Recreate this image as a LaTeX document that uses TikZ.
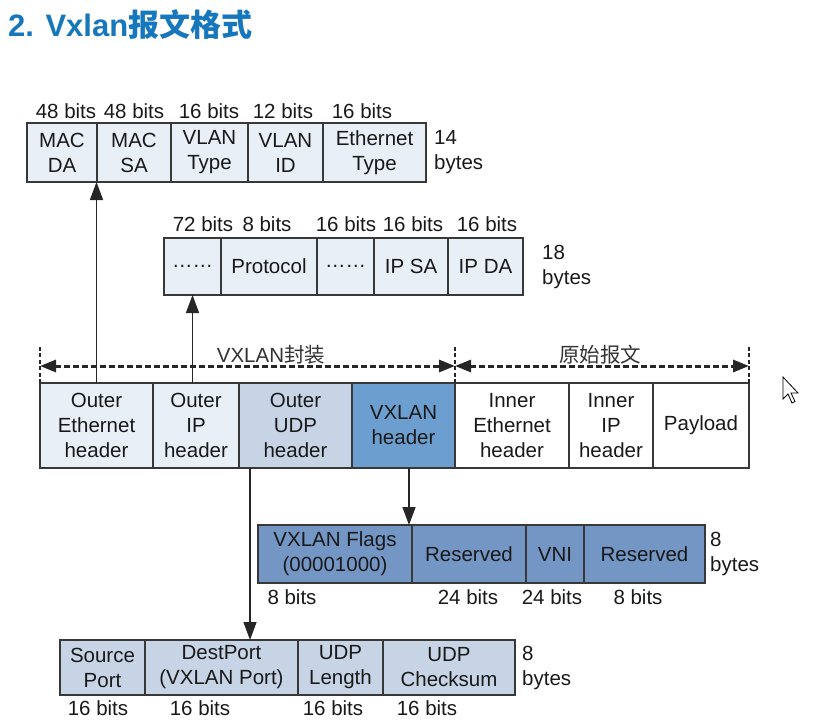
\documentclass[tikz,border=0pt]{standalone}
\usepackage{fontspec}
\setmainfont{Liberation Sans}
\newfontfamily\cjk{Noto Sans CJK SC}
\usetikzlibrary{
    positioning,
    arrows.meta
}
\definecolor{paleblue}{HTML}{E9EFF6}
\definecolor{udpblue}{HTML}{C6D4E5}
\definecolor{hdrblue}{HTML}{6C9FCF}
\definecolor{vxblue}{HTML}{7396C5}
\definecolor{edgegray}{HTML}{383838}
\definecolor{titleblue}{HTML}{1777BD}
\tikzset{
    >=Triangle,
    field/.style={
        draw=edgegray,
        line width=1.5bp,
        inner sep=0pt,
        outer sep=0pt,
        align=center,
        text=black!90,
        font=\fontsize{20.5bp}{25bp}\selectfont
    },
    wd/.style={minimum width=#1bp},
    ht/.style={minimum height=#1bp},
    bitlbl/.style={
        inner sep=0pt,
        text=black!90,
        font=\fontsize{20.5bp}{25bp}\selectfont
    },
    sizelbl/.style={
        inner sep=0pt,
        align=left,
        text=black!90,
        font=\fontsize{20.5bp}{25bp}\selectfont
    },
    conn/.style={
        draw=black!85,
        line width=1.5bp,
        -{Triangle[length=18bp,width=13bp]}
    },
    span/.style={
        draw=black!85,
        line width=3bp,
        dash pattern=on 6bp off 3bp,
        {Triangle[length=16bp,width=12bp]}-{Triangle[length=16bp,width=12bp]}
    },
    tick/.style={
        draw=black!85,
        line width=2bp,
        dash pattern=on 4bp off 2.5bp
    }
}

\begin{document}
\begin{tikzpicture}[
    x=1bp,
    y=-1bp
]
    \useasboundingbox (0,0) rectangle (838,722);

    % Titel
    \node[anchor=base west, inner sep=0pt, text=titleblue,
          font=\fontsize{31bp}{36bp}\selectfont\bfseries]
        (title) at (8,37) {2. Vxlan{\cjk 报文格式}};

    % Ethernet-Kopf
    \node[field, fill=paleblue, ht=59, wd=70, anchor=north west] (macda) at (27,123) {MAC\\DA};
    \node[field, fill=paleblue, ht=59, wd=74, right=0pt of macda]  (macsa)   {MAC\\SA};
    \node[field, fill=paleblue, ht=59, wd=77, right=0pt of macsa]  (vlantype) {VLAN\\Type};
    \node[field, fill=paleblue, ht=59, wd=75, right=0pt of vlantype] (vlanid) {VLAN\\ID};
    \node[field, fill=paleblue, ht=59, wd=103, right=0pt of vlanid] (ethtype) {Ethernet\\Type};
    \node[sizelbl, right=8bp of ethtype] (macbytes) {14\\bytes};

    \node[bitlbl] (bmacda)   at (66,111)  {48 bits};
    \node[bitlbl] (bmacsa)   at (134,111) {48 bits};
    \node[bitlbl] (bvlantype) at (209,111) {16 bits};
    \node[bitlbl] (bvlanid)  at (283,111) {12 bits};
    \node[bitlbl] (bethtype) at (362,111) {16 bits};

    % IP-Kopf
    \node[field, fill=paleblue, ht=57, wd=57, anchor=north west] (ipdots) at (164,238) {……};
    \node[field, fill=paleblue, ht=57, wd=96, right=0pt of ipdots] (proto) {Protocol};
    \node[field, fill=paleblue, ht=57, wd=57, right=0pt of proto]  (ipdots2) {……};
    \node[field, fill=paleblue, ht=57, wd=74, right=0pt of ipdots2] (ipsa) {IP SA};
    \node[field, fill=paleblue, ht=57, wd=75, right=0pt of ipsa]   (ipda) {IP DA};
    \node[sizelbl, right=19bp of ipda] (ipbytes) {18\\bytes};

    \node[bitlbl] (bipdots)  at (203,224) {72 bits};
    \node[bitlbl] (bproto)   at (267,224) {8 bits};
    \node[bitlbl] (bipdots2) at (346,224) {16 bits};
    \node[bitlbl] (bipsa)    at (413,224) {16 bits};
    \node[bitlbl] (bipda)    at (487,224) {16 bits};

    % Gesamtpaket
    \node[field, fill=paleblue, ht=85, wd=113, anchor=north west] (oeth) at (40,383) {Outer\\Ethernet\\header};
    \node[field, fill=paleblue, ht=85, wd=86, right=0pt of oeth] (oip) {Outer\\IP\\header};
    \node[field, fill=udpblue, ht=85, wd=113, right=0pt of oip]  (oudp) {Outer\\UDP\\header};
    \node[field, fill=hdrblue, ht=85, wd=103, right=0pt of oudp] (vxhdr) {VXLAN\\header};
    \node[field, fill=white, ht=85, wd=114, right=0pt of vxhdr]  (ieth) {Inner\\Ethernet\\header};
    \node[field, fill=white, ht=85, wd=84, right=0pt of ieth]    (iip) {Inner\\IP\\header};
    \node[field, fill=white, ht=85, wd=96, right=0pt of iip]     (payload) {Payload};

    % Bereiche
    \coordinate (spanl) at ([yshift=17bp]oeth.north west);
    \coordinate (spanm) at ([yshift=17bp]vxhdr.north east);
    \coordinate (spanr) at ([yshift=17bp]payload.north east);
    \draw[tick] (oeth.north west) -- ([yshift=38bp]oeth.north west);
    \draw[tick] (vxhdr.north east) -- ([yshift=38bp]vxhdr.north east);
    \draw[tick] (payload.north east) -- ([yshift=38bp]payload.north east);
    \draw[span] (spanl) -- (spanm);
    \draw[span] (spanm) -- (spanr);
    \node[bitlbl, text=black!80] (enclbl)  at (271,355) {VXLAN{\cjk 封装}};
    \node[bitlbl, text=black!80] (origlbl) at (600,355) {\cjk 原始报文};

    % VXLAN-Kopf
    \node[field, fill=vxblue, ht=58, wd=154, anchor=north west] (vxflags) at (258,525) {VXLAN Flags\\(00001000)};
    \node[field, fill=vxblue, ht=58, wd=114, right=0pt of vxflags] (vxres1) {Reserved};
    \node[field, fill=vxblue, ht=58, wd=58, right=0pt of vxres1]   (vni) {VNI};
    \node[field, fill=vxblue, ht=58, wd=121, right=0pt of vni]     (vxres2) {Reserved};
    \node[sizelbl, right=5bp of vxres2] (vxbytes) {8\\bytes};

    \node[bitlbl] (bvxflags) at (292,597) {8 bits};
    \node[bitlbl] (bvxres1)  at (468,597) {24 bits};
    \node[bitlbl] (bvni)     at (552,597) {24 bits};
    \node[bitlbl] (bvxres2)  at (638,597) {8 bits};

    % UDP-Kopf
    \node[field, fill=udpblue, ht=55, wd=85, anchor=north west] (sport) at (60,640) {Source\\Port};
    \node[field, fill=udpblue, ht=55, wd=153, right=0pt of sport] (dport) {DestPort\\(VXLAN Port)};
    \node[field, fill=udpblue, ht=55, wd=85, right=0pt of dport]  (udplen) {UDP\\Length};
    \node[field, fill=udpblue, ht=55, wd=132, right=0pt of udplen] (udpsum) {UDP\\Checksum};
    \node[sizelbl, right=7bp of udpsum] (udpbytes) {8\\bytes};

    \node[bitlbl] (bsport)  at (98,708)  {16 bits};
    \node[bitlbl] (bdport)  at (200,708) {16 bits};
    \node[bitlbl] (budplen) at (333,708) {16 bits};
    \node[bitlbl] (budpsum) at (427,708) {16 bits};

    % Verbindungen
    \coordinate (udptap) at ([xshift=11bp]oudp.south west);
    \coordinate (vxtap) at ([xshift=-3bp]vxflags.north east);
    \draw[conn] (oeth.north) -- (oeth.north |- macda.south);
    \draw[conn] (ipdots.south |- oip.north) -- (ipdots.south);
    \draw[conn] (vxtap |- vxhdr.south) -- (vxtap);
    \draw[conn] (udptap) -- (udptap |- dport.north);

    % Zeiger
    \draw[fill=white, line width=0.8bp] (783,377) -- ++(0,22) -- ++(5,-5) -- ++(4,9)
        -- ++(3,-1.5) -- ++(-4,-8.5) -- ++(7,0) -- cycle;

\end{tikzpicture}
\end{document}
